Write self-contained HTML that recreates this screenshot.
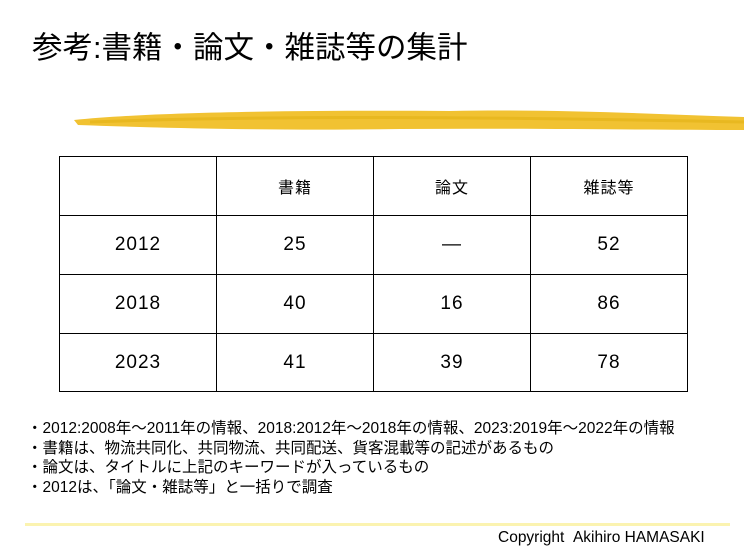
<!DOCTYPE html>
<html><head><meta charset="utf-8"><style>
body{margin:0;width:744px;height:554px;background:#fff;position:relative;overflow:hidden;font-family:"Liberation Sans","Noto Sans CJK JP",sans-serif;color:#000}
.abs{position:absolute}
#title{left:32px;top:30px;font-size:30.5px;white-space:nowrap;line-height:36px}
table{position:absolute;left:59px;top:156px;border-collapse:collapse}
td{border:1px solid #000;text-align:center;font-size:19px;width:156px;padding:0;letter-spacing:1px}
.notes{left:27px;top:419px;font-size:15.5px;line-height:19.5px;white-space:nowrap}
</style></head><body>
<div id="title" class="abs">参考:書籍・論文・雑誌等の集計</div>
<svg class="abs" style="left:0;top:100px" width="744" height="40">
<path d="M74,20 C150,12 300,10 450,11 C560,9 650,14 744,17 L744,30 C640,30 520,28 400,29 C280,31 160,28 78,25 Z" fill="#f1c232"/>
<path d="M90,22 C250,16 450,16 744,22" stroke="#e8b820" stroke-width="3" fill="none"/>
</svg>
<table>
<tr style="height:59px"><td></td><td style="font-size:16px">書籍</td><td style="font-size:16px">論文</td><td style="font-size:16px">雑誌等</td></tr>
<tr style="height:59px"><td>2012</td><td>25</td><td>—</td><td>52</td></tr>
<tr style="height:59px"><td>2018</td><td>40</td><td>16</td><td>86</td></tr>
<tr style="height:58px"><td>2023</td><td>41</td><td>39</td><td>78</td></tr>
</table>
<div class="abs notes">
<div>・2012:2008年～2011年の情報、2018:2012年～2018年の情報、2023:2019年～2022年の情報</div>
<div>・書籍は、物流共同化、共同物流、共同配送、貨客混載等の記述があるもの</div>
<div>・論文は、タイトルに上記のキーワードが入っているもの</div>
<div>・2012は、「論文・雑誌等」と一括りで調査</div>
</div>
<div class="abs" style="left:25px;top:523px;width:705px;height:3px;background:#fbf3b0"></div>
<div class="abs" style="left:498px;top:529px;font-size:15.5px;white-space:nowrap">Copyright&nbsp;&nbsp;Akihiro HAMASAKI</div>
</body></html>
